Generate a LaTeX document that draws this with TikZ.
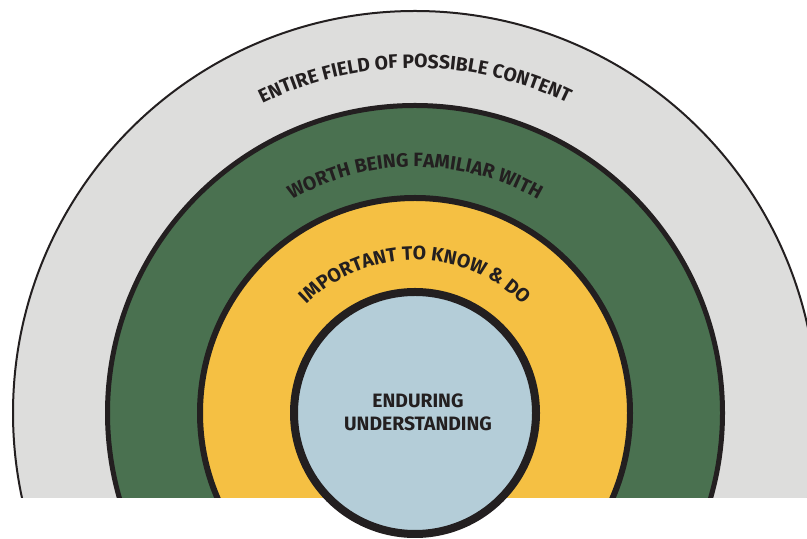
\documentclass[tikz,border=0pt]{standalone}
\usepackage{fontspec}
\setmainfont{Fira Sans}
\usetikzlibrary{calc,decorations.text}
\definecolor{ringgrey}{HTML}{DDDDDC}
\definecolor{ringgreen}{HTML}{4A7150}
\definecolor{ringyellow}{HTML}{F5C043}
\definecolor{ringblue}{HTML}{B4CDD8}
\definecolor{ringline}{HTML}{231F20}
\def\labelfont{\bfseries\fontsize{19.4}{23}\selectfont\color{ringline}}
\def\arclabel(#1:#2)#3{\path[decorate,decoration={text along path,text align=center,text={|\labelfont|#3}}] ($(#1)+(180:#2)$) arc (180:0:#2);}

\begin{document}
\begin{tikzpicture}[x=1bp,y=1bp]
			%%%%% START %%%%%
			
			\useasboundingbox (0, 0) rectangle (807, 539);
			\coordinate (c) at (415, 126);
			
			\draw[line width=2bp, color=ringline, fill=ringgrey] (c) circle (402);
			\draw[line width=5bp, color=ringline, fill=ringgreen] (c) circle (307.5);
			\draw[line width=6bp, color=ringline, fill=ringyellow] (c) circle (215);
			
			\fill[white] (-5, -5) rectangle (812, 41);
			
			\draw[line width=8bp, color=ringline, fill=ringblue] (c) circle (121);
			
			\arclabel(c:345){ENTIRE FIELD OF POSSIBLE CONTENT}
			\arclabel(c:246){WORTH BEING FAMILIAR WITH}
			\arclabel(c:153){IMPORTANT TO KNOW {\&} DO}
			
			\node[align=center, font=\labelfont, inner sep=0pt] (eu) at ($(c)+(3, 1)$) {ENDURING\\UNDERSTANDING};
			
			%%%%% END %%%%%
		\end{tikzpicture}
\end{document}
